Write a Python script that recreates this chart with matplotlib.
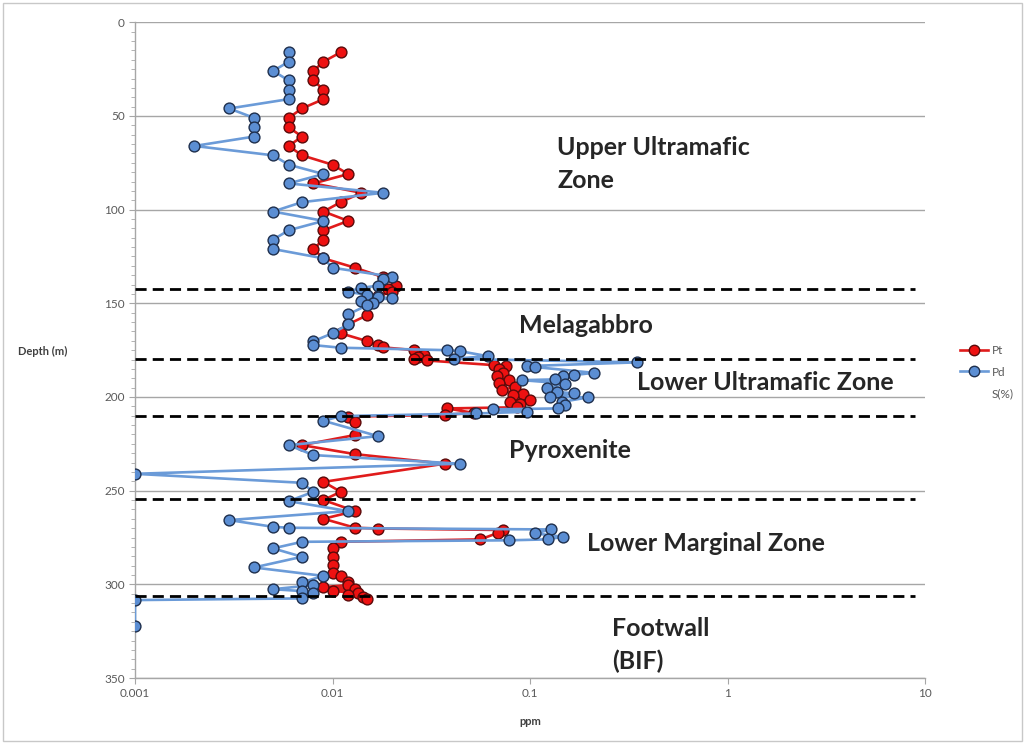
import matplotlib
matplotlib.use("Agg")
import matplotlib.pyplot as plt
from matplotlib.lines import Line2D
from matplotlib.patches import Rectangle
from matplotlib.ticker import FixedLocator, NullLocator, FixedFormatter

plt.rcParams["font.family"] = ["Lato", "DejaVu Sans"]

# Pt (ppm) by depth (m)
pt_depth = [16, 21, 26, 31, 36, 41, 46, 51, 56, 61, 66, 71, 76, 81, 86, 91, 96, 101, 106,
            111, 116, 121, 126, 131, 136, 140.6, 142.4, 144.0, 146.0, 149.0, 156.3, 161.2,
            166.0, 170.2, 172.3, 173.5, 175.0, 177.6, 178.8, 179.6, 180.5, 183.0, 183.5,
            185.0, 187.4, 189.0, 191.0, 192.4, 194.6, 196.3, 198.5, 199.0, 201.7, 202.6,
            203.5, 205.5, 206.1, 208.5, 209.5, 210.5, 213.2, 220.3, 225.7, 230.5, 235.6,
            245.3, 250.6, 255.0, 260.9, 265.0, 269.8, 270.2, 271.0, 272.5, 276.0, 277.3,
            280.8, 285.3, 289.8, 293.7, 295.5, 298.9, 300.4, 301.5, 302.6, 303.6, 304.5,
            305.5, 306.8, 307.6]
pt_ppm = [0.011, 0.009, 0.008, 0.008, 0.009, 0.009, 0.007, 0.006, 0.006, 0.007, 0.006,
          0.007, 0.010, 0.012, 0.008, 0.014, 0.011, 0.009, 0.012, 0.009, 0.009, 0.008,
          0.009, 0.013, 0.018, 0.021, 0.019, 0.020, 0.017, 0.016, 0.015, 0.012, 0.011,
          0.015, 0.017, 0.018, 0.026, 0.029, 0.027, 0.026, 0.030, 0.066, 0.076, 0.070,
          0.073, 0.068, 0.078, 0.070, 0.084, 0.072, 0.092, 0.082, 0.100, 0.079, 0.089,
          0.086, 0.038, 0.052, 0.037, 0.012, 0.013, 0.013, 0.007, 0.013, 0.037, 0.009,
          0.011, 0.009, 0.013, 0.009, 0.013, 0.017, 0.073, 0.069, 0.056, 0.011, 0.010,
          0.010, 0.010, 0.010, 0.011, 0.012, 0.012, 0.009, 0.013, 0.010, 0.0135, 0.012,
          0.0143, 0.015]

# Pd (ppm) by depth (m)
pd_depth = [16, 21, 26, 31, 36, 41, 46, 51, 56, 61, 66, 71, 76, 81, 86, 91, 96, 101, 106,
            111, 116, 121, 126, 131, 135.8, 137.0, 140.6, 141.7, 143.8, 145.6, 146.5, 147.4,
            148.5, 150.0, 151.0, 155.9, 161.2, 166.0, 170.2, 172.3, 173.7, 175.0, 175.5,
            178.2, 179.6, 181.5, 183.5, 184.0, 187.1, 188.3, 189.0, 190.6, 191.0, 192.8,
            195.4, 197.2, 198.1, 199.9, 200.2, 202.6, 204.5, 206.1, 206.6, 207.9, 208.8,
            210.2, 212.7, 220.9, 225.7, 231.0, 235.6, 241.0, 245.8, 250.6, 255.6, 260.9,
            265.7, 269.3, 269.8, 270.7, 272.8, 274.6, 276.0, 276.5, 277.3, 280.8, 285.3,
            291.0, 295.5, 298.9, 300.4, 302.6, 303.6, 304.5, 307.5, 308.4, 322.0]
pd_ppm = [0.006, 0.006, 0.005, 0.006, 0.006, 0.006, 0.003, 0.004, 0.004, 0.004, 0.002,
          0.005, 0.006, 0.009, 0.006, 0.018, 0.007, 0.005, 0.009, 0.006, 0.005, 0.005,
          0.009, 0.010, 0.020, 0.018, 0.017, 0.014, 0.012, 0.015, 0.017, 0.020, 0.014,
          0.016, 0.015, 0.012, 0.012, 0.010, 0.008, 0.008, 0.011, 0.038, 0.044, 0.061,
          0.041, 0.35, 0.096, 0.106, 0.21, 0.166, 0.147, 0.134, 0.091, 0.150, 0.122,
          0.137, 0.166, 0.126, 0.197, 0.145, 0.150, 0.139, 0.065, 0.096, 0.053, 0.011,
          0.009, 0.017, 0.006, 0.008, 0.044, 0.001, 0.007, 0.008, 0.006, 0.012, 0.003,
          0.005, 0.006, 0.128, 0.106, 0.147, 0.123, 0.078, 0.007, 0.005, 0.007, 0.004,
          0.009, 0.007, 0.008, 0.005, 0.007, 0.008, 0.007, 0.001, 0.001]

# zone boundaries (m) and zone labels
boundary_depths = [142.4, 179.5, 210.4, 254.5, 306.0]
zone_labels = ["Upper Ultramafic\nZone", "Melagabbro", "Lower Ultramafic Zone",
               "Pyroxenite", "Lower Marginal Zone", "Footwall\n(BIF)"]
zone_label_x = [0.137, 0.088, 0.35, 0.078, 0.195, 0.26]
zone_label_y = [75.5, 162, 192.5, 228.5, 278, 332.5]

fig = plt.figure(figsize=(10.26, 7.44), dpi=100)
ax = fig.add_axes([0.1316, 0.0887, 0.77, 0.8813])

ax.plot(pt_ppm, pt_depth, color="#e01b1b", lw=1.9, marker="o", ms=7.8,
        mfc="#ee1111", mec="#5a0a0a", mew=1.0, label="Pt", zorder=3)
ax.plot(pd_ppm, pd_depth, color="#6b9bd8", lw=1.9, marker="o", ms=7.8,
        mfc="#5b8ed3", mec="#1e2f4d", mew=1.0, label="Pd", zorder=4)

for d in boundary_depths:
    ax.plot([0.001, 8.9], [d, d], color="black", lw=2.0, dashes=(4.0, 2.2), zorder=5)

for txt, x, y in zip(zone_labels, zone_label_x, zone_label_y):
    ax.text(x, y, txt, fontsize=18, fontweight="bold", color="#262626",
            ha="left", va="center", linespacing=1.5, zorder=6)

ax.set_xscale("log")
ax.set_xlim(0.001, 10)
ax.set_ylim(350, 0)
ax.xaxis.set_major_locator(FixedLocator([0.001, 0.01, 0.1, 1, 10]))
ax.xaxis.set_major_formatter(FixedFormatter(["0.001", "0.01", "0.1", "1", "10"]))
ax.xaxis.set_minor_locator(NullLocator())
ax.yaxis.set_major_locator(FixedLocator([0, 50, 100, 150, 200, 250, 300, 350]))
ax.yaxis.set_minor_locator(FixedLocator(range(0, 351, 5)))

ax.grid(axis="y", which="major", color="#a6a6a6", lw=1.0, zorder=0)
for s in ["top", "right"]:
    ax.spines[s].set_visible(False)
for s in ["left", "bottom"]:
    ax.spines[s].set_color("#a6a6a6")
    ax.spines[s].set_linewidth(1.0)
ax.tick_params(axis="both", which="major", colors="#a6a6a6", labelcolor="#595959",
               labelsize=8.5, length=4)
ax.tick_params(axis="y", which="minor", colors="#a6a6a6", length=3)

ax.set_xlabel("ppm", fontsize=8, fontweight="bold", color="#404040", labelpad=12)
fig.text(0.018, 0.527, "Depth (m)", fontsize=8, fontweight="bold", color="#404040",
         ha="left", va="center")

handles = [
    Line2D([], [], color="#e01b1b", lw=1.9, marker="o", ms=7.5, mfc="#ee1111", mec="#5a0a0a"),
    Line2D([], [], color="#6b9bd8", lw=1.9, marker="o", ms=7.5, mfc="#5b8ed3", mec="#1e2f4d"),
    Line2D([], [], linestyle="none"),
]
fig.legend(handles, ["Pt", "Pd", "S(%)"], loc="center left", bbox_to_anchor=(0.925, 0.50),
           frameon=False, fontsize=8.5, handlelength=2.4, labelcolor="#595959",
           labelspacing=0.9, handletextpad=0.3)

fig.add_artist(Rectangle((0.003, 0.004), 0.993, 0.992, transform=fig.transFigure,
                         fill=False, ec="#c8c8c8", lw=1.0))

fig.savefig("out.png", dpi=100)
